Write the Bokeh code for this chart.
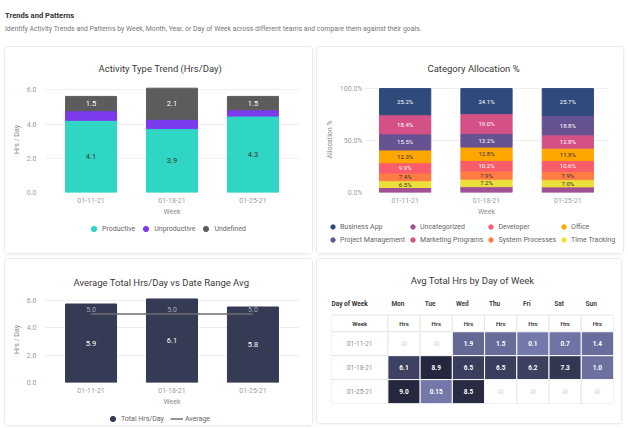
from bokeh.plotting import figure
from bokeh.models import (ColumnDataSource, FactorRange, Range1d, FixedTicker, PrintfTickFormatter,
                          Legend, LegendItem, Div, LinearColorMapper)
from bokeh.layouts import column, row
from bokeh.core.properties import value
from bokeh.transform import transform
from bokeh.embed import file_html
from bokeh.resources import INLINE

FONT = "Roboto"
CARD = {"border": "1px solid #ebebeb", "border-radius": "4px", "box-shadow": "0 1px 3px rgba(0,0,0,0.05)"}

# ---------------- data ----------------
weeks = ["01-11-21", "01-18-21", "01-25-21"]

# Activity Type Trend (Hrs/Day)
productive = [4.22, 3.74, 4.47]
unproductive = [0.56, 0.54, 0.37]
undefined = [0.84, 1.82, 0.78]
productive_labels = ["4.1", "3.9", "4.3"]
undefined_labels = ["1.5", "2.1", "1.5"]

# Category Allocation %
business_app = [25.2, 24.1, 25.7]
marketing_programs = [18.4, 19.0, 12.8]
project_management = [15.5, 13.2, 18.8]
office = [12.3, 12.8, 11.8]
developer = [9.9, 10.2, 10.6]
system_processes = [7.4, 7.9, 7.9]
time_tracking = [6.5, 7.2, 7.0]
uncategorized = [4.8, 5.6, 5.4]
legend_order = ["Business App", "Uncategorized", "Developer", "Office",
                "Project Management", "Marketing Programs", "System Processes", "Time Tracking"]

# Average Total Hrs/Day vs Date Range Avg
total_hrs = [5.75, 6.12, 5.53]
total_labels = ["5.9", "6.1", "5.8"]
average = [5.02, 5.02, 5.02]
average_labels = ["5.0", "5.0", "5.0"]

# Avg Total Hrs by Day of Week
days = ["Mon", "Tue", "Wed", "Thu", "Fri", "Sat", "Sun"]
hrs_01_11 = [None, None, 1.9, 1.5, 0.1, 0.7, 1.4]
hrs_01_18 = [6.1, 8.9, 6.5, 6.5, 6.2, 7.3, 1.0]
hrs_01_25 = [9.0, 0.15, 8.5, None, None, None, None]
hrs_labels_01_11 = ["", "", "1.9", "1.5", "0.1", "0.7", "1.4"]
hrs_labels_01_18 = ["6.1", "8.9", "6.5", "6.5", "6.2", "7.3", "1.0"]
hrs_labels_01_25 = ["9.0", "0.15", "8.5", "", "", "", ""]

# ---------------- helpers ----------------
def style(p, title_offset, align="left", standoff=18):
    p.title.text_font = FONT
    p.title.text_font_size = "9.5px"
    p.title.text_font_style = "normal"
    p.title.text_color = "#3a3a3a"
    p.title.align = align
    p.title.offset = title_offset
    p.title.standoff = standoff
    p.outline_line_color = None
    p.border_fill_color = "white"
    for ax in p.axis:
        ax.axis_line_color = None
        ax.major_tick_line_color = None
        ax.minor_tick_line_color = None
        ax.major_tick_out = 0
        ax.major_tick_in = 0
        ax.major_label_text_font = FONT
        ax.major_label_text_font_size = "7px"
        ax.major_label_text_color = "#9c9c9c"
        ax.axis_label_text_font = FONT
        ax.axis_label_text_font_size = "7px"
        ax.axis_label_text_font_style = "normal"
        ax.axis_label_text_color = "#8c8c8c"
    p.xgrid.grid_line_color = None
    p.ygrid.grid_line_color = "#eeeeee"


def legend_strip(width, height, spec, loc, glyph=13, spacing=10, ncols=None):
    s = figure(width=width, height=height, x_range=Range1d(0, 1), y_range=Range1d(0, 1),
               output_backend="svg", toolbar_location=None, x_axis_location=None,
               y_axis_location=None, min_border=0, margin=(0, 0, 0, 0))
    try:
        s.frame_align = False
    except Exception:
        pass
    s.outline_line_color = None
    s.grid.visible = False
    items = []
    for label, kind, color in spec:
        if kind == "circle":
            r = s.scatter(x=[-5], y=[-5], marker="circle", size=6, color=color)
        else:
            r = s.line(x=[-5, -4], y=[-5, -5], line_color=color, line_width=1.5)
        items.append(LegendItem(label=label, renderers=[r]))
    lg = Legend(items=items, location=loc, orientation="horizontal",
                glyph_width=glyph, glyph_height=glyph, label_height=8,
                label_text_font=FONT, label_text_font_size="7px", label_text_color="#666666",
                label_standoff=2, spacing=spacing, padding=1, margin=0,
                border_line_color=None, background_fill_alpha=0)
    if ncols:
        lg.ncols = ncols
    s.add_layout(lg)
    return s

# ---------------- header ----------------
header = Div(text=(
    '<div style="font-family:Roboto;padding:10px 0 0 5px;">'
    '<div style="font-size:7.6px;font-weight:bold;color:#333;line-height:12px;">Trends and Patterns</div>'
    '<div style="font-size:6.9px;color:#777;margin-top:3px;line-height:9px;">Identify Activity Trends and Patterns by Week, '
    'Month, Year, or Day of Week across different teams and compare them against their goals.</div></div>'),
    width=628, height=44, margin=(0, 0, 0, 0))

# ---------------- chart 1 ----------------
p1 = figure(width=307, height=172, x_range=FactorRange(factors=weeks, range_padding=0.05),
            y_range=Range1d(0, 6.2), output_backend="svg", toolbar_location=None,
            title="Activity Type Trend (Hrs/Day)",
            min_border_left=39, min_border_right=13, min_border_top=39, min_border_bottom=27,
            margin=(0, 0, 0, 0))
style(p1, 54, standoff=26)
src1 = ColumnDataSource(dict(
    week=weeks,
    p_top=productive,
    u_top=[a + b for a, b in zip(productive, unproductive)],
    d_top=[a + b + c for a, b, c in zip(productive, unproductive, undefined)],
    p_mid=[a / 2 for a in productive],
    d_mid=[a + b + c / 2 for a, b, c in zip(productive, unproductive, undefined)],
    p_lab=productive_labels, d_lab=undefined_labels))
c_prod, c_unprod, c_undef = "#2fd6c3", "#7c3aed", "#5c5c5c"
p1.vbar(x="week", bottom=0, top="p_top", width=0.63, color=c_prod, source=src1)
p1.vbar(x="week", bottom="p_top", top="u_top", width=0.63, color=c_unprod, source=src1)
p1.vbar(x="week", bottom="u_top", top="d_top", width=0.63, color=c_undef, source=src1)
p1.text(x="week", y="p_mid", text="p_lab", source=src1, text_align="center", text_baseline="middle",
        text_font=value(FONT), text_font_size="7.5px", text_color="#333333")
p1.text(x="week", y="d_mid", text="d_lab", source=src1, text_align="center", text_baseline="middle",
        text_font=value(FONT), text_font_size="7.5px", text_color="#ffffff")
p1.yaxis.ticker = FixedTicker(ticks=[0, 2, 4, 6])
p1.yaxis.formatter = PrintfTickFormatter(format="%.1f")
p1.yaxis.axis_label = "Hrs / Day"
p1.yaxis.major_label_standoff = 8
p1.yaxis.axis_label_standoff = 3
p1.xaxis.axis_label = "Week"
p1.xaxis.major_label_standoff = 5
p1.xaxis.axis_label_standoff = 2
leg1 = legend_strip(307, 34, [("Productive", "circle", c_prod), ("Unproductive", "circle", c_unprod),
                              ("Undefined", "circle", c_undef)], (82, 18), spacing=4)
card1 = column(p1, leg1, spacing=0, styles=CARD, margin=(2, 0, 0, 4))

# ---------------- chart 2 ----------------
cat_series = {
    "Business App": business_app, "Project Management": project_management,
    "Uncategorized": uncategorized, "Marketing Programs": marketing_programs,
    "Developer": developer, "System Processes": system_processes,
    "Office": office, "Time Tracking": time_tracking,
}
cat_colors = {
    "Business App": "#2f4b7c", "Project Management": "#665191", "Uncategorized": "#a05195",
    "Marketing Programs": "#d45087", "Developer": "#f95d6a", "System Processes": "#ff7c43",
    "Office": "#ffa600", "Time Tracking": "#ecdf3c",
}
cat_text = {
    "Business App": "#ffffff", "Project Management": "#ffffff", "Uncategorized": "#ffffff",
    "Marketing Programs": "#ffffff", "Developer": "#ffffff", "System Processes": "#333333",
    "Office": "#333333", "Time Tracking": "#333333",
}
seg = dict(week=[], bottom=[], top=[], mid=[], color=[], label=[], tcolor=[])
for i, w in enumerate(weeks):
    ordered = sorted(cat_series, key=lambda k: cat_series[k][i])
    base = 0.0
    for k in ordered:
        v = cat_series[k][i]
        seg["week"].append(w); seg["bottom"].append(base); seg["top"].append(base + v)
        seg["mid"].append(base + v / 2); seg["color"].append(cat_colors[k])
        seg["label"].append("" if k == "Uncategorized" else f"{v:.1f}%")
        seg["tcolor"].append(cat_text[k])
        base += v
src2 = ColumnDataSource(seg)
p2 = figure(width=306, height=172, x_range=FactorRange(factors=weeks, range_padding=0.0),
            y_range=Range1d(0, 102), output_backend="svg", toolbar_location=None,
            title="Category Allocation %",
            min_border_left=47, min_border_right=15, min_border_top=39, min_border_bottom=27,
            margin=(0, 0, 0, 0))
style(p2, 63, standoff=26)
p2.vbar(x="week", bottom="bottom", top="top", width=0.63, fill_color="color", line_color="color",
        source=src2)
p2.text(x="week", y="mid", text="label", text_color="tcolor", source=src2, text_align="center",
        text_baseline="middle", text_font=value(FONT), text_font_size="6px")
p2.yaxis.ticker = FixedTicker(ticks=[0, 50, 100])
p2.yaxis.formatter = PrintfTickFormatter(format="%.1f%%")
p2.yaxis.axis_label = "Allocation %"
p2.yaxis.major_label_standoff = 2
p2.yaxis.axis_label_standoff = 3
p2.xaxis.axis_label = "Week"
p2.xaxis.major_label_standoff = 5
p2.xaxis.axis_label_standoff = 2
leg2 = legend_strip(306, 34, [(k, "circle", cat_colors[k]) for k in legend_order], (10, 8),
                    glyph=11, spacing=2, ncols=4)
card2 = column(p2, leg2, spacing=0, styles=CARD, margin=(2, 0, 0, 3))

# ---------------- chart 3 ----------------
src3 = ColumnDataSource(dict(week=weeks, total=total_hrs, mid=[t / 2 for t in total_hrs],
                             tlab=total_labels, avg=average, alab=average_labels))
p3 = figure(width=307, height=150, x_range=FactorRange(factors=weeks, range_padding=0.05),
            y_range=Range1d(0, 6.3), output_backend="svg", toolbar_location=None,
            title="Average Total Hrs/Day vs Date Range Avg",
            min_border_left=39, min_border_right=13, min_border_top=37, min_border_bottom=27,
            margin=(0, 0, 0, 0))
style(p3, 29, standoff=17)
p3.vbar(x="week", top="total", width=0.63, color="#353a55", source=src3)
p3.line(x="week", y="avg", line_color="#6f6f6f", line_width=1.5, source=src3)
p3.text(x="week", y="mid", text="tlab", source=src3, text_align="center", text_baseline="middle",
        text_font=value(FONT), text_font_size="7.5px", text_color="#ffffff")
p3.text(x="week", y="avg", text="alab", source=src3, text_align="center", text_baseline="bottom",
        y_offset=-2, text_font=value(FONT), text_font_size="7px", text_color="#a9abb8")
p3.yaxis.ticker = FixedTicker(ticks=[0, 2, 4, 6])
p3.yaxis.formatter = PrintfTickFormatter(format="%.1f")
p3.yaxis.axis_label = "Hrs / Day"
p3.yaxis.major_label_standoff = 8
p3.yaxis.axis_label_standoff = 3
p3.xaxis.axis_label = "Week"
p3.xaxis.major_label_standoff = 5
p3.xaxis.axis_label_standoff = 2
leg3 = legend_strip(307, 16, [("Total Hrs/Day", "circle", "#353a55"), ("Average", "line", "#6f6f6f")],
                    (101, 0), spacing=6)
card3 = column(p3, leg3, spacing=0, styles=CARD, margin=(4, 0, 0, 4))

# ---------------- chart 4 (heatmap table) ----------------
WK = 1.75  # width of week column in day-column units
hm_rows = [hrs_01_11, hrs_01_18, hrs_01_25]
hm_labs = [hrs_labels_01_11, hrs_labels_01_18, hrs_labels_01_25]
grid = dict(x=[], y=[], w=[], h=[])
fill = dict(x=[], y=[], v=[], lab=[])
empty = dict(x=[], y=[])
grid["x"].append(WK / 2); grid["y"].append(-0.35); grid["w"].append(WK); grid["h"].append(0.7)
for c in range(len(days)):
    grid["x"].append(WK + c + 0.5); grid["y"].append(-0.35); grid["w"].append(1); grid["h"].append(0.7)
for r, (vals, labs) in enumerate(zip(hm_rows, hm_labs)):
    grid["x"].append(WK / 2); grid["y"].append(r + 0.5); grid["w"].append(WK); grid["h"].append(1)
    for c, (v, lab) in enumerate(zip(vals, labs)):
        cx = WK + c + 0.5
        grid["x"].append(cx); grid["y"].append(r + 0.5); grid["w"].append(1); grid["h"].append(1)
        if v is None:
            empty["x"].append(cx); empty["y"].append(r + 0.5)
        else:
            fill["x"].append(cx); fill["y"].append(r + 0.5); fill["v"].append(v); fill["lab"].append(lab)


def lerp_palette(c0, c1, n):
    a = [int(c0[i:i + 2], 16) for i in (1, 3, 5)]
    b = [int(c1[i:i + 2], 16) for i in (1, 3, 5)]
    return ["#%02x%02x%02x" % tuple(round(a[j] + (b[j] - a[j]) * t / (n - 1)) for j in range(3))
            for t in range(n)]


mapper = LinearColorMapper(palette=lerp_palette("#7479ab", "#25273e", 64), low=0, high=9)
p4 = figure(width=306, height=166, x_range=Range1d(0, WK + len(days)), y_range=Range1d(3.0, -1.6),
            output_backend="svg", toolbar_location=None, title="Avg Total Hrs by Day of Week",
            x_axis_location=None, y_axis_location=None,
            min_border_left=14, min_border_right=10, min_border_top=34, min_border_bottom=22,
            margin=(4, 0, 0, 3), styles=CARD)
style(p4, 0, align="center", standoff=15)
p4.grid.visible = False
p4.rect(x="x", y="y", width="w", height="h", fill_color="white", line_color="#e6e6e6",
        line_width=1, source=ColumnDataSource(grid))
p4.rect(x="x", y="y", width=1, height=1, fill_color=transform("v", mapper), line_color="white",
        line_width=1, source=ColumnDataSource(fill))
p4.text(x="x", y="y", text="lab", source=ColumnDataSource(fill), text_align="center",
        text_baseline="middle", text_font=value(FONT), text_font_size="6.5px",
        text_font_style="bold", text_color="white")
p4.text(x="x", y="y", text=value("\u2298"), source=ColumnDataSource(empty), text_align="center",
        text_baseline="middle", text_font=value("DejaVu Sans"), text_font_size="8px",
        text_color="#d6d6d6")
day_x = [WK + c + 0.5 for c in range(len(days))]
p4.text(x=[x - 0.19 for x in day_x], y=[-1.15] * len(days), text=days, text_align="center",
        text_baseline="middle", text_font=value(FONT), text_font_size="6.5px",
        text_font_style="bold", text_color="#444444")
p4.text(x=[0.0], y=[-1.15], text=["Day of Week"], text_align="left", text_baseline="middle",
        text_font=value(FONT), text_font_size="6.5px", text_font_style="bold", text_color="#333333")
p4.text(x=[WK / 2] + day_x, y=[-0.35] * (len(days) + 1), text=["Week"] + ["Hrs"] * len(days),
        text_align="center", text_baseline="middle", text_font=value(FONT), text_font_size="6px",
        text_font_style="bold", text_color="#444444")
p4.text(x=[WK / 2] * 3, y=[0.5, 1.5, 2.5], text=weeks, text_align="center", text_baseline="middle",
        text_font=value(FONT), text_font_size="6.5px", text_color="#8c8c8c")

layout = column(header, row(card1, card2, spacing=0), row(card3, p4, spacing=0), spacing=0,
                width=628, height=428)
open("out.html", "w").write(file_html(layout, INLINE))
